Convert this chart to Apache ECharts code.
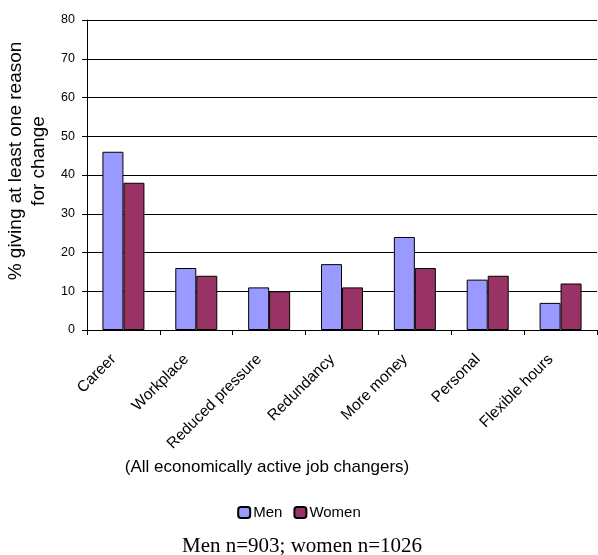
<!DOCTYPE html>
<html>
<head>
<meta charset="utf-8">
<script src="https://cdn.jsdelivr.net/npm/echarts@6/dist/echarts.min.js"></script>
<style>
html,body{margin:0;padding:0;background:#fff;}
#chart{width:598px;height:555px;}
</style>
</head>
<body>
<div id="chart"></div>
<script>
var reasons = ['Career','Workplace','Reduced pressure','Redundancy','More money','Personal','Flexible hours'];
var men = [46,16,11,17,24,13,7];
var women = [38,14,10,11,16,14,12];
var yTicks = [0,10,20,30,40,50,60,70,80];

var axisFont = 'Arial, "Liberation Sans", sans-serif';

var myChart = echarts.init(document.getElementById('chart'));
var option = {
	animation:false,
	backgroundColor:'#fff',
	title:[{
		text:'(All economically active job changers)',
		left:262, top:454,
		textAlign:'center',
		textStyle:{fontFamily:axisFont,fontSize:17,fontWeight:'normal',color:'#000'}
	},{
		text:'Men n=903; women n=1026',
		left:297, top:531,
		textAlign:'center',
		textStyle:{fontFamily:'"Liberation Serif", "Times New Roman", serif',fontSize:21,fontWeight:'normal',color:'#000'}
	}],
	legend:{
		data:['Men','Women'],
		left:'center', top:500,
		itemWidth:12, itemHeight:11, itemGap:11,
		textStyle:{fontFamily:axisFont,fontSize:15,color:'#000',padding:[0,0,0,-2]}
	},
	grid:{left:87, right:1, top:20, bottom:225, outerBoundsMode:'none', containLabel:false},
	xAxis:{
		type:'category',
		data:reasons,
		axisLine:{lineStyle:{color:'#000',width:1}},
		axisTick:{show:true,length:5,lineStyle:{color:'#000'}},
		axisLabel:{
			rotate:45, margin:17, interval:0,
			fontFamily:axisFont, fontSize:15.5, color:'#000',
			formatter:function(v){ return '{l|' + v + '}'; },
			rich:{l:{fontFamily:axisFont,fontSize:15.5,color:'#000',padding:[0,14,0,0]}}
		}
	},
	yAxis:{
		type:'value',
		min:0, max:80, interval:10,
		name:'% giving at least one reason\nfor change',
		nameLocation:'middle', nameRotate:90, nameGap:34,
		nameTextStyle:{fontFamily:axisFont,fontSize:19,color:'#000',lineHeight:23,padding:[0,0,0,28]},
		axisLine:{show:true,lineStyle:{color:'#000',width:1}},
		axisTick:{show:true,length:5,lineStyle:{color:'#000'}},
		axisLabel:{margin:12,fontFamily:axisFont,fontSize:12.5,color:'#000'},
		splitLine:{show:true,lineStyle:{color:'#000',width:1}}
	},
	series:[{
		name:'Men', type:'bar', data:men,
		barWidth:21, barGap:'0%',
		itemStyle:{color:'#9999FF',borderColor:'#000',borderWidth:1}
	},{
		name:'Women', type:'bar', data:women,
		barWidth:21,
		itemStyle:{color:'#993366',borderColor:'#000',borderWidth:1}
	}]
};
myChart.setOption(option);
</script>
</body>
</html>
